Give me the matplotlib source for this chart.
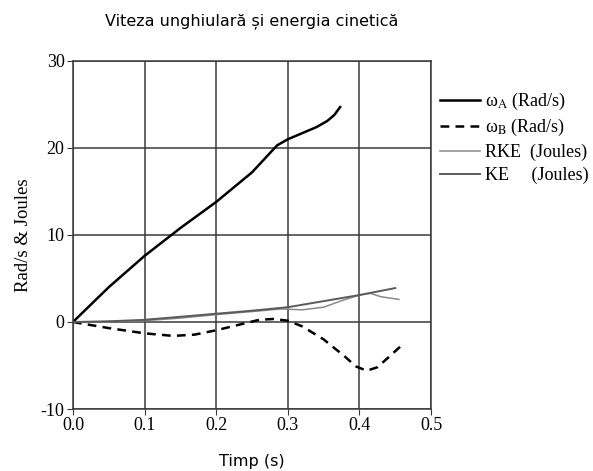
import matplotlib
matplotlib.use('Agg')
import matplotlib.pyplot as plt

# valori
t_a = [0.0, 0.05, 0.1, 0.15, 0.2, 0.25, 0.285, 0.3, 0.32, 0.34, 0.355, 0.365, 0.373]
omega_a = [0.0, 4.0, 7.6, 10.8, 13.8, 17.2, 20.3, 21.0, 21.7, 22.4, 23.1, 23.8, 24.7]

t_b = [0.0, 0.05, 0.1, 0.14, 0.17, 0.2, 0.23, 0.26, 0.28, 0.3, 0.32, 0.35, 0.38, 0.395, 0.41, 0.425, 0.44, 0.46]
omega_b = [0.0, -0.7, -1.3, -1.6, -1.45, -0.95, -0.35, 0.25, 0.35, 0.15, -0.5, -2.0, -4.0, -5.1, -5.6, -5.2, -4.1, -2.6]

t_rke = [0.0, 0.05, 0.1, 0.15, 0.2, 0.25, 0.29, 0.32, 0.35, 0.377, 0.4, 0.415, 0.43, 0.455]
rke = [0.0, 0.05, 0.15, 0.45, 0.85, 1.2, 1.5, 1.4, 1.7, 2.5, 3.1, 3.3, 2.9, 2.6]

t_ke = [0.0, 0.05, 0.1, 0.15, 0.2, 0.25, 0.3, 0.35, 0.4, 0.45]
ke = [0.0, 0.08, 0.25, 0.6, 0.95, 1.3, 1.7, 2.4, 3.1, 3.9]

serif = ['Liberation Serif', 'DejaVu Serif']
plt.rcParams['mathtext.fontset'] = 'stix'

fig = plt.figure(figsize=(5.93, 4.71), dpi=100)
ax = fig.add_axes([0.123, 0.1316, 0.604, 0.739])

ax.plot(t_a, omega_a, color='black', lw=1.8, label=r'ω$_\mathrm{A}$ (Rad/s)')
ax.plot(t_b, omega_b, color='black', lw=1.8, ls=(0, (3.5, 2.5)), label=r'ω$_\mathrm{B}$ (Rad/s)')
ax.plot(t_rke, rke, color='#8a8a8a', lw=1.1, label='RKE  (Joules)')
ax.plot(t_ke, ke, color='#5a5a5a', lw=1.4, label='KE     (Joules)')

ax.set_xlim(0, 0.5)
ax.set_ylim(-10, 30)
ax.set_xticks([0.0, 0.1, 0.2, 0.3, 0.4, 0.5])
ax.set_yticks([-10, 0, 10, 20, 30])
ax.set_xticklabels(['0.0', '0.1', '0.2', '0.3', '0.4', '0.5'], family=serif, fontsize=13)
ax.set_yticklabels(['-10', '0', '10', '20', '30'], family=serif, fontsize=13)
ax.grid(True, color='#3a3a3a', lw=1.1)
ax.set_axisbelow(True)
for s in ax.spines.values():
    s.set_color('#3a3a3a')
    s.set_linewidth(1.1)
ax.tick_params(direction='out', length=4, color='#3a3a3a', pad=2)

ax.set_title('Viteza unghiulară și energia cinetică', fontsize=11.5, pad=26, family='DejaVu Sans')
ax.set_xlabel('Timp (s)', fontsize=11.5, family='DejaVu Sans', labelpad=14)
ax.set_ylabel('Rad/s & Joules', fontsize=13.5, family=serif, labelpad=6)

ax.legend(loc='upper left', bbox_to_anchor=(1.005, 0.935), frameon=False,
          prop={'family': serif, 'size': 13}, handlelength=2.2, handletextpad=0.3,
          labelspacing=0.3, borderaxespad=0)

fig.savefig('out.png', dpi=100)
